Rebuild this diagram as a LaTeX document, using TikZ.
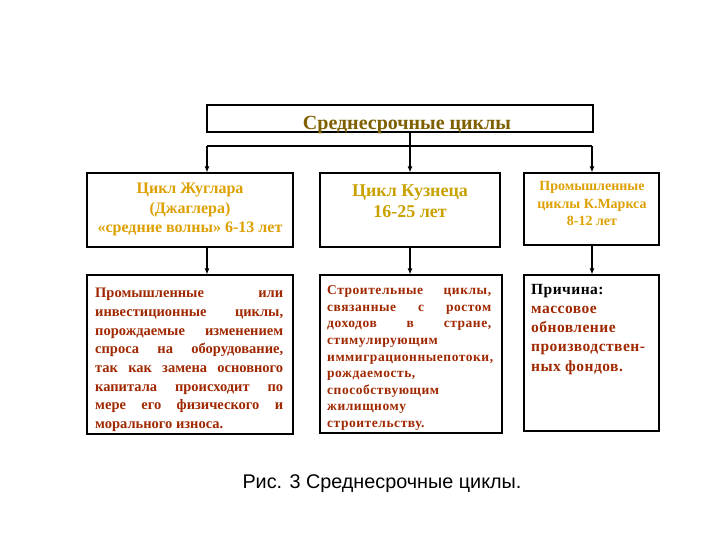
\documentclass[tikz,border=0pt]{standalone}
\usepackage{fontspec}
\setmainfont{Liberation Serif}
\setsansfont{Liberation Sans}
\usetikzlibrary{arrows.meta}
\definecolor{titlec}{HTML}{7F6000}
\definecolor{goldc}{HTML}{DDA000}
\definecolor{kuzc}{HTML}{C9A200}
\definecolor{redc}{HTML}{A02800}
\newcommand{\jline}[2]{\makebox[#1][s]{#2}}
\newfontfamily\spacedfont[LetterSpace=4.0]{Liberation Serif}
\newfontfamily\spacedfontb[LetterSpace=3.0]{Liberation Serif}
\tikzset{
  box/.style={draw=black, line width=1.1pt, rectangle, inner sep=0pt},
  conn/.style={line width=1.3pt, draw=black},
  arr/.style={conn, -{Latex[length=6pt,width=5pt]}},
  txt/.style={inner sep=0pt, font=\bfseries}
}
\begin{document}
\begin{tikzpicture}[x=1pt,y=-1pt]
\useasboundingbox[fill=white] (0,0) rectangle (720,540);

% boxes
\node[box, minimum width=386pt, minimum height=27pt] (top) at (400,118.5) {};
\node[box, minimum width=206pt, minimum height=74pt] (j1) at (190,210) {};
\node[box, minimum width=180pt, minimum height=74pt] (k1) at (410,210) {};
\node[box, minimum width=135pt, minimum height=72pt] (m1) at (591.5,209) {};
\node[box, minimum width=206pt, minimum height=159pt] (j2) at (190,354.5) {};
\node[box, minimum width=182pt, minimum height=158pt] (k2) at (411,354) {};
\node[box, minimum width=135pt, minimum height=156pt] (m2) at (591.5,353) {};

% texts
\node[txt, text=titlec, font=\bfseries\fontsize{20}{24}\selectfont] (ttl) at (407,125) {Среднесрочные циклы};

\node[txt, text=goldc, align=center, font=\bfseries\fontsize{16}{19.5}\selectfont, anchor=north] (t1) at (190,183)
  {Цикл Жуглара\\(Джаглера)\\«средние волны» 6-13 лет};
\node[txt, text=kuzc, align=center, font=\bfseries\fontsize{18}{21}\selectfont, anchor=north] (t2) at (410,184.5)
  {Цикл Кузнеца\\16-25 лет};
\node[txt, text=goldc, align=center, font=\bfseries\fontsize{14}{17.8}\selectfont, anchor=north] (t3) at (592,181)
  {Промышленные\\циклы К.Маркса\\8-12 лет};

\node[txt, text=redc, align=left, font=\bfseries\fontsize{14.5}{18.7}\selectfont, anchor=north west] (t4) at (95,288)
  {\jline{188pt}{Промышленные или}\\
   \jline{188pt}{инвестиционные циклы,}\\
   \jline{188pt}{порождаемые изменением}\\
   \jline{188pt}{спроса на оборудование,}\\
   \jline{188pt}{так как замена основного}\\
   \jline{188pt}{капитала происходит по}\\
   \jline{188pt}{мере его физического и}\\
   морального износа.};

\node[txt, text=redc, align=left, font=\spacedfont\bfseries\fontsize{13.5}{16.6}\selectfont, anchor=north west] (t5) at (327,285.5)
  {\jline{164pt}{Строительные циклы,}\\
   \jline{164pt}{связанные с ростом}\\
   \jline{164pt}{доходов в стране,}\\
   стимулирующим\\
   иммиграционныепотоки,\\
   рождаемость,\\
   способствующим\\
   жилищному\\
   строительству.};

\node[txt, text=redc, align=left, font=\spacedfontb\bfseries\fontsize{15.5}{19.2}\selectfont, anchor=north west] (t6) at (531,284)
  {\textcolor{black}{Причина:}\\
   массовое\\
   обновление\\
   производствен-\\
   ных фондов.};

\node[inner sep=0pt, font=\sffamily\fontsize{19.8}{23}\selectfont] (cap) at (382,483.5) {Рис. 3 Среднесрочные циклы.};

% connectors
\coordinate (hl) at (207,146);
\coordinate (hr) at (592,146);
\draw[conn] (hl) -- (hr);
\draw[arr] (top.south -| k1.north) -- (k1.north);
\draw[arr] (hl) -- (hl |- j1.north);
\draw[arr] (hr) -- (hr |- m1.north);
\draw[arr] (j1.south -| hl) -- (j2.north -| hl);
\draw[arr] (k1.south) -- (k2.north -| k1.south);
\draw[arr] (m1.south -| hr) -- (m2.north -| hr);
\end{tikzpicture}
\end{document}
